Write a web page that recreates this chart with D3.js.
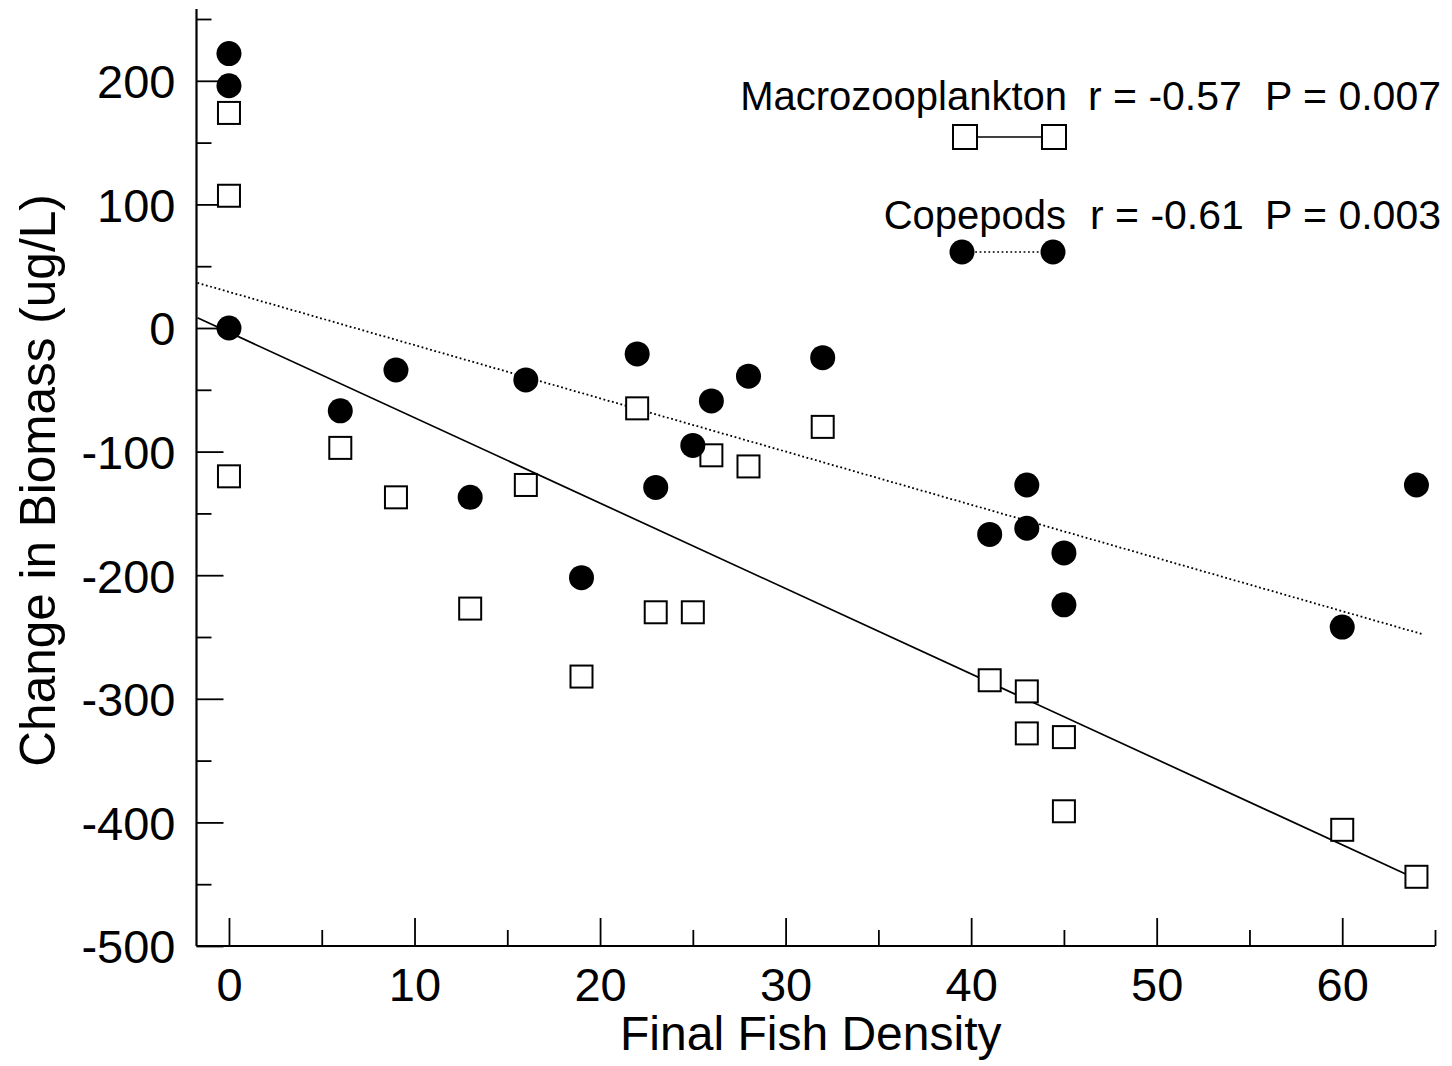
<!DOCTYPE html>
<html>
<head>
<meta charset="utf-8">
<script src="https://cdn.jsdelivr.net/npm/d3@7"></script>
<style>
  html, body { margin: 0; padding: 0; background: #fff; }
  svg { display: block; }
  text { font-family: "Liberation Sans", Arial, Helvetica, sans-serif; fill: #000; }
</style>
</head>
<body>
<svg id="chart" width="1452" height="1066"></svg>
<script>
// Final fish density for each enclosure (same for both zooplankton groups)
const fishDensity = [0, 0, 0, 6, 9, 13, 16, 19, 22, 23, 25, 26, 28, 32, 41, 43, 43, 45, 45, 60, 64];

// Change in biomass (ug/L)
const macroChange = [174, 107, -120, -97, -137, -227, -127, -282, -65, -230, -230, -103, -112, -80, -285, -294, -328, -331, -391, -406, -444];
const copepodChange = [222, 196, 0, -67, -34, -137, -42, -202, -21, -129, -95, -59, -39, -24, -167, -127, -162, -182, -224, -242, -127];

// Least-squares fits: intercept, slope, and x extent of the drawn line
const macroFit = [-3.5, -6.91, -1.7, 64.0];
const copepodFit = [29.2, -4.305, -1.7, 64.3];

// Axis ticks
const xMajorTicks = [0, 10, 20, 30, 40, 50, 60];
const xMinorTicks = [5, 15, 25, 35, 45, 55, 65];
const yMajorTicks = [200, 100, 0, -100, -200, -300, -400, -500];
const yMinorTicks = [250, 150, 50, -50, -150, -250, -350, -450];

const legendItems = [
  { name: "Macrozooplankton", r: "r = -0.57", p: "P = 0.007" },
  { name: "Copepods", r: "r = -0.61", p: "P = 0.003" }
];

const svg = d3.select("#chart");

const x = d3.scaleLinear().domain([-1.75, 65]).range([196.5, 1435]);
const y = d3.scaleLinear().domain([-500, 250]).range([946, 19]);

const font = "Liberation Sans, Arial, Helvetica, sans-serif";
const plainNumber = d => String(d);   // keep the ASCII hyphen for negatives

// ---- axes ----
const axisG = svg.append("g").attr("class", "axes");

// y axis
const yMajor = axisG.append("g")
  .attr("transform", `translate(${x(-1.75)},0)`)
  .call(d3.axisLeft(y).tickValues(yMajorTicks).tickSize(-27).tickSizeOuter(0).tickPadding(21).tickFormat(plainNumber));
const yMinor = axisG.append("g")
  .attr("transform", `translate(${x(-1.75)},0)`)
  .call(d3.axisLeft(y).tickValues(yMinorTicks).tickSize(-15).tickSizeOuter(0).tickFormat(""));

// x axis
const xMajor = axisG.append("g")
  .attr("transform", `translate(0,${y(-500)})`)
  .call(d3.axisBottom(x).tickValues(xMajorTicks).tickSize(-28).tickSizeOuter(0).tickPadding(22).tickFormat(plainNumber));
const xMinor = axisG.append("g")
  .attr("transform", `translate(0,${y(-500)})`)
  .call(d3.axisBottom(x).tickValues(xMinorTicks).tickSize(-16).tickSizeOuter(0).tickFormat(""));

[yMajor, yMinor, xMajor, xMinor].forEach(g => {
  g.select(".domain").remove();
  g.selectAll(".tick line").attr("stroke", "#000").attr("stroke-width", 1.8);
  g.selectAll(".tick text").attr("font-family", font).attr("font-size", 47).attr("fill", "#000");
});
yMajor.selectAll(".tick text").attr("dy", "0.36em");

// axis lines
axisG.append("line")
  .attr("x1", x(-1.75)).attr("x2", x(-1.75))
  .attr("y1", y(-500)).attr("y2", y(258))
  .attr("stroke", "#000").attr("stroke-width", 2.2);
axisG.append("line")
  .attr("x1", x(-1.75)).attr("x2", x(65))
  .attr("y1", y(-500)).attr("y2", y(-500))
  .attr("stroke", "#000").attr("stroke-width", 2.2);

// axis titles
svg.append("text")
  .attr("x", (x(-1.75) + x(65)) / 2 - 5)
  .attr("y", 1050)
  .attr("text-anchor", "middle")
  .attr("font-size", 48)
  .text("Final Fish Density");

svg.append("text")
  .attr("transform", `translate(55,${(y(-500) + y(250)) / 2 - 2}) rotate(-90)`)
  .attr("text-anchor", "middle")
  .attr("font-size", 49.5)
  .text("Change in Biomass (ug/L)");

// ---- regression lines ----
function fitLine(fit) {
  const [a, b, x0, x1] = fit;
  return [[x0, a + b * x0], [x1, a + b * x1]];
}
const line = d3.line().x(d => x(d[0])).y(d => y(d[1]));

svg.append("path")
  .attr("d", line(fitLine(macroFit)))
  .attr("fill", "none").attr("stroke", "#000").attr("stroke-width", 1.7);

svg.append("path")
  .attr("d", line(fitLine(copepodFit)))
  .attr("fill", "none").attr("stroke", "#000").attr("stroke-width", 1.8)
  .attr("stroke-dasharray", "1.8,2.6");

// ---- points ----
const sq = 22;
const macroPts = fishDensity.map((d, i) => [d, macroChange[i]]);
const copePts = fishDensity.map((d, i) => [d, copepodChange[i]]);

svg.append("g").selectAll("rect")
  .data(macroPts)
  .join("rect")
  .attr("x", d => x(d[0]) - sq / 2)
  .attr("y", d => y(d[1]) - sq / 2)
  .attr("width", sq).attr("height", sq)
  .attr("fill", "#fff").attr("stroke", "#000").attr("stroke-width", 2);

svg.append("g").selectAll("circle")
  .data(copePts)
  .join("circle")
  .attr("cx", d => x(d[0]))
  .attr("cy", d => y(d[1]))
  .attr("r", 12.5)
  .attr("fill", "#000");

// ---- legend ----
const legend = svg.append("g").attr("class", "legend");
const rows = [
  { item: legendItems[0], baseline: 110, nameEnd: 1067, rX: 1088, pEnd: 1441 },
  { item: legendItems[1], baseline: 229, nameEnd: 1066, rX: 1090, pEnd: 1441 }
];
rows.forEach(row => {
  legend.append("text").attr("x", row.nameEnd).attr("y", row.baseline)
    .attr("text-anchor", "end").attr("font-size", 40).text(row.item.name);
  legend.append("text").attr("x", row.rX).attr("y", row.baseline)
    .attr("font-size", 41).text(row.item.r);
  legend.append("text").attr("x", row.pEnd).attr("y", row.baseline)
    .attr("text-anchor", "end")
    .attr("font-size", 41).text(row.item.p);
});

// legend symbols
const lx0 = 965, lx1 = 1054;
legend.append("line").attr("x1", lx0).attr("x2", lx1).attr("y1", 137).attr("y2", 137)
  .attr("stroke", "#000").attr("stroke-width", 1.6);
[lx0, lx1].forEach(cx => {
  legend.append("rect").attr("x", cx - 12).attr("y", 137 - 12).attr("width", 24).attr("height", 24)
    .attr("fill", "#fff").attr("stroke", "#000").attr("stroke-width", 2);
});
legend.append("line").attr("x1", 962).attr("x2", 1053).attr("y1", 252).attr("y2", 252)
  .attr("stroke", "#000").attr("stroke-width", 1.6).attr("stroke-dasharray", "1.8,2.6");
[962, 1053].forEach(cx => {
  legend.append("circle").attr("cx", cx).attr("cy", 252).attr("r", 12.5).attr("fill", "#000");
});
</script>
</body>
</html>
